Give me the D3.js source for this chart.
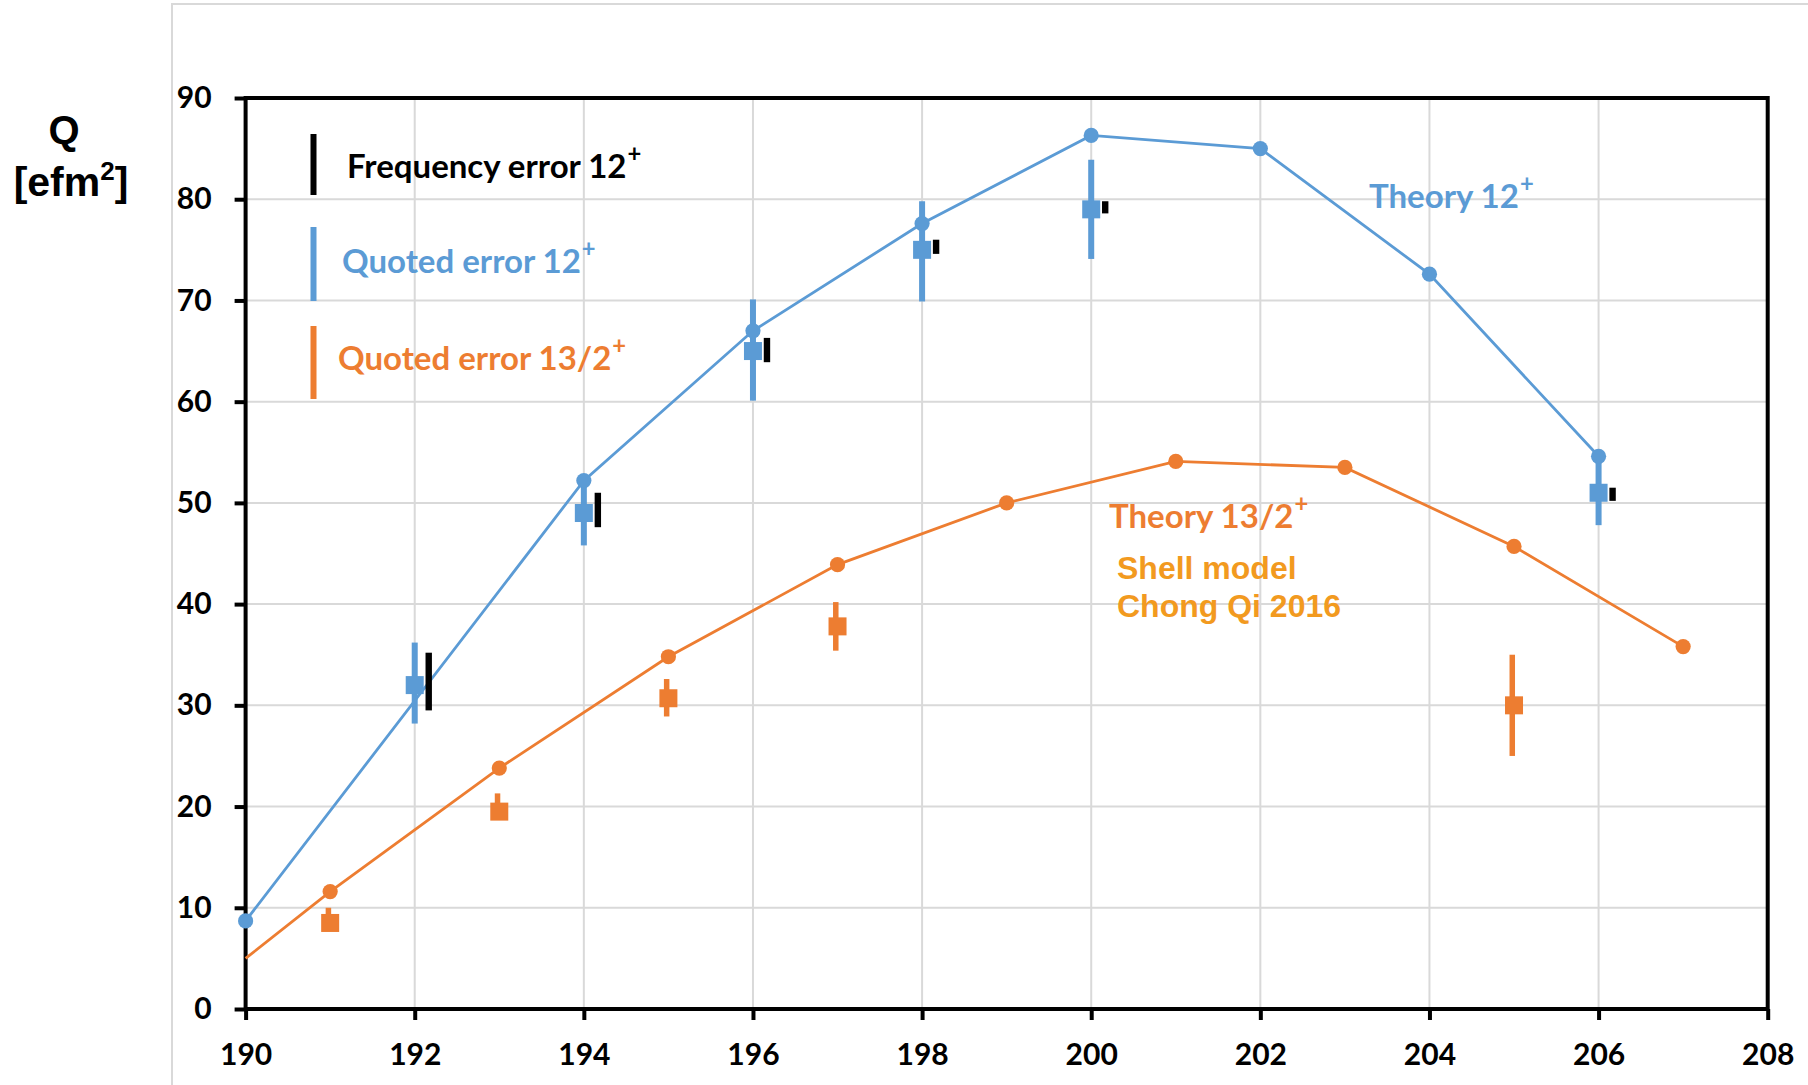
<!DOCTYPE html>
<html>
<head>
<meta charset="utf-8">
<script src="https://cdn.jsdelivr.net/npm/d3@7"></script>
<style>
  html, body { margin: 0; padding: 0; background: #fff; }
  svg { display: block; }
</style>
</head>
<body>
<svg id="chart" width="1808" height="1085"></svg>
<script>
// Axis ticks
const xTicks = [190, 192, 194, 196, 198, 200, 202, 204, 206, 208];
const yTicks = [0, 10, 20, 30, 40, 50, 60, 70, 80, 90];

// Shell-model theory, 12+ state (even mass numbers)
const theory12A = [190, 194, 196, 198, 200, 202, 204, 206];
const theory12Q = [8.7, 52.2, 67.0, 77.6, 86.3, 85.0, 72.6, 54.6];

// Shell-model theory, 13/2+ state (odd mass numbers); the first point anchors the line at the axis
const theory132A = [190, 191, 193, 195, 197, 199, 201, 203, 205, 207];
const theory132Q = [5.0, 11.6, 23.8, 34.8, 43.9, 50.0, 54.1, 53.5, 45.7, 35.8];

// Measured 12+ moments: value, quoted error range, frequency error range
const exp12A = [192, 194, 196, 198, 200, 206];
const exp12Q = [32.0, 49.0, 65.0, 75.0, 79.0, 51.0];
const exp12Lo = [28.2, 45.8, 60.1, 69.9, 74.1, 47.8];
const exp12Hi = [36.2, 52.0, 70.1, 79.8, 83.9, 54.4];
const freq12Lo = [29.5, 47.6, 63.9, 74.6, 78.6, 50.2];
const freq12Hi = [35.2, 51.0, 66.3, 76.0, 79.8, 51.5];

// Measured 13/2+ moments: value and quoted error range
const exp132A = [191, 193, 195, 197, 205];
const exp132Q = [8.5, 19.5, 30.7, 37.8, 30.0];
const exp132Lo = [7.8, 18.8, 28.9, 35.4, 25.0];
const exp132Hi = [10.0, 21.3, 32.6, 40.2, 35.0];

const BLUE = "#5B9BD5";
const ORANGE = "#ED7D31";
const AMBER = "#F29A1F";
const GRID = "#D9D9D9";
const TICK_FONT = "Lato, 'Open Sans', sans-serif";
const TITLE_FONT = "'Liberation Sans', Arial, sans-serif";

const svg = d3.select("#chart");

// Outer chart-area frame
svg.append("path")
  .attr("d", "M172,1085 V4 H1808")
  .attr("fill", "none").attr("stroke", GRID).attr("stroke-width", 2);

const x = d3.scaleLinear().domain([190, 208]).range([245.6, 1767.7]);
const y = d3.scaleLinear().domain([0, 90]).range([1009, 98]);

// Gridlines
const grid = svg.append("g");
grid.selectAll("line.v").data(xTicks.slice(1, -1)).join("line")
  .attr("x1", d => x(d)).attr("x2", d => x(d))
  .attr("y1", y(0)).attr("y2", y(90))
  .attr("stroke", GRID).attr("stroke-width", 2);
grid.selectAll("line.h").data(yTicks.slice(1, -1)).join("line")
  .attr("x1", x(190)).attr("x2", x(208))
  .attr("y1", d => y(d)).attr("y2", d => y(d))
  .attr("stroke", GRID).attr("stroke-width", 2);

// Axes
const xAxis = svg.append("g")
  .attr("transform", `translate(0,${y(0)})`)
  .call(d3.axisBottom(x).tickValues(xTicks).tickSize(11).tickPadding(24).tickFormat(d3.format("d")));
const yAxis = svg.append("g")
  .attr("transform", `translate(${x(190)},0)`)
  .call(d3.axisLeft(y).tickValues(yTicks).tickSize(11).tickPadding(23));
[xAxis, yAxis].forEach(g => {
  g.select(".domain").remove();
  g.selectAll(".tick line").attr("stroke", "#000").attr("stroke-width", 4);
  g.selectAll(".tick text")
    .attr("fill", "#000")
    .style("font-family", TICK_FONT)
    .style("font-weight", "bold")
    .style("font-size", "30px");
});

// Plot border
svg.append("rect")
  .attr("x", x(190)).attr("y", y(90))
  .attr("width", x(208) - x(190)).attr("height", y(0) - y(90))
  .attr("fill", "none").attr("stroke", "#000").attr("stroke-width", 4);

// Theory lines
const line = d3.line().x(d => x(d[0])).y(d => y(d[1]));
const t12 = theory12A.map((a, i) => [a, theory12Q[i]]);
const t132 = theory132A.map((a, i) => [a, theory132Q[i]]);
svg.append("path").datum(t12).attr("d", line)
  .attr("fill", "none").attr("stroke", BLUE).attr("stroke-width", 2.8);
svg.append("path").datum(t132).attr("d", line)
  .attr("fill", "none").attr("stroke", ORANGE).attr("stroke-width", 2.8);

// Error bars
const bars = svg.append("g");
bars.selectAll("rect.q12").data(exp12A).join("rect")
  .attr("x", a => x(a) - 3).attr("width", 6)
  .attr("y", (a, i) => y(exp12Hi[i]))
  .attr("height", (a, i) => y(exp12Lo[i]) - y(exp12Hi[i]))
  .attr("fill", BLUE);
bars.selectAll("rect.f12").data(exp12A).join("rect")
  .attr("x", a => x(a) + 14 - 3.2).attr("width", 6.4)
  .attr("y", (a, i) => y(freq12Hi[i]))
  .attr("height", (a, i) => y(freq12Lo[i]) - y(freq12Hi[i]))
  .attr("fill", "#000");
bars.selectAll("rect.q132").data(exp132A).join("rect")
  .attr("x", a => x(a) - 4.5).attr("width", 5.5)
  .attr("y", (a, i) => y(exp132Hi[i]))
  .attr("height", (a, i) => y(exp132Lo[i]) - y(exp132Hi[i]))
  .attr("fill", ORANGE);

// Measured values (squares)
const S = 18;
svg.append("g").selectAll("rect").data(exp12A).join("rect")
  .attr("x", a => x(a) - S / 2).attr("y", (a, i) => y(exp12Q[i]) - S / 2)
  .attr("width", S).attr("height", S).attr("fill", BLUE);
svg.append("g").selectAll("rect").data(exp132A).join("rect")
  .attr("x", a => x(a) - S / 2).attr("y", (a, i) => y(exp132Q[i]) - S / 2)
  .attr("width", S).attr("height", S).attr("fill", ORANGE);

// Theory markers
svg.append("g").selectAll("circle").data(t12).join("circle")
  .attr("cx", d => x(d[0])).attr("cy", d => y(d[1])).attr("r", 7.6).attr("fill", BLUE);
svg.append("g").selectAll("circle").data(t132.slice(1)).join("circle")
  .attr("cx", d => x(d[0])).attr("cy", d => y(d[1])).attr("r", 7.6).attr("fill", ORANGE);

// Text with a superscript tail
function label(xp, yp, main, sup, color, size, family) {
  const t = svg.append("text")
    .attr("x", xp).attr("y", yp)
    .attr("fill", color)
    .style("font-family", family || TICK_FONT)
    .style("font-weight", "bold")
    .style("font-size", size + "px");
  t.append("tspan").text(main);
  if (sup) t.append("tspan").attr("dx", 1).attr("dy", -0.5 * size).style("font-size", (0.72 * size) + "px").text(sup);
  return t;
}

// Legend
const legend = [
  { y0: 134, y1: 195, color: "#000", tx: 347, ty: 178, text: "Frequency error 12" },
  { y0: 227, y1: 301, color: BLUE, tx: 342, ty: 273, text: "Quoted error 12" },
  { y0: 326, y1: 399, color: ORANGE, tx: 338, ty: 370, text: "Quoted error 13/2" }
];
legend.forEach(l => {
  svg.append("rect").attr("x", 310.5).attr("y", l.y0).attr("width", 6).attr("height", l.y1 - l.y0).attr("fill", l.color);
  label(l.tx, l.ty, l.text, "+", l.color, 33);
});

// Series annotations
label(1369, 208, "Theory 12", "+", BLUE, 33);
label(1109, 528, "Theory 13/2", "+", ORANGE, 33);
svg.append("text").attr("x", 1117).attr("y", 579).attr("fill", AMBER)
  .style("font-family", TITLE_FONT).style("font-weight", "bold").style("font-size", "32px")
  .text("Shell model");
svg.append("text").attr("x", 1117).attr("y", 617).attr("fill", AMBER)
  .style("font-family", TITLE_FONT).style("font-weight", "bold").style("font-size", "32px")
  .text("Chong Qi 2016");

// Y axis title
svg.append("text").attr("x", 64).attr("y", 144).attr("text-anchor", "middle")
  .style("font-family", TITLE_FONT).style("font-weight", "bold").style("font-size", "40px")
  .text("Q");
const unit = svg.append("text").attr("x", 71).attr("y", 196).attr("text-anchor", "middle")
  .style("font-family", TITLE_FONT).style("font-weight", "bold").style("font-size", "41px");
unit.append("tspan").text("[efm");
unit.append("tspan").attr("dy", -16).style("font-size", "26px").text("2");
unit.append("tspan").attr("dy", 16).text("]");
</script>
</body>
</html>
